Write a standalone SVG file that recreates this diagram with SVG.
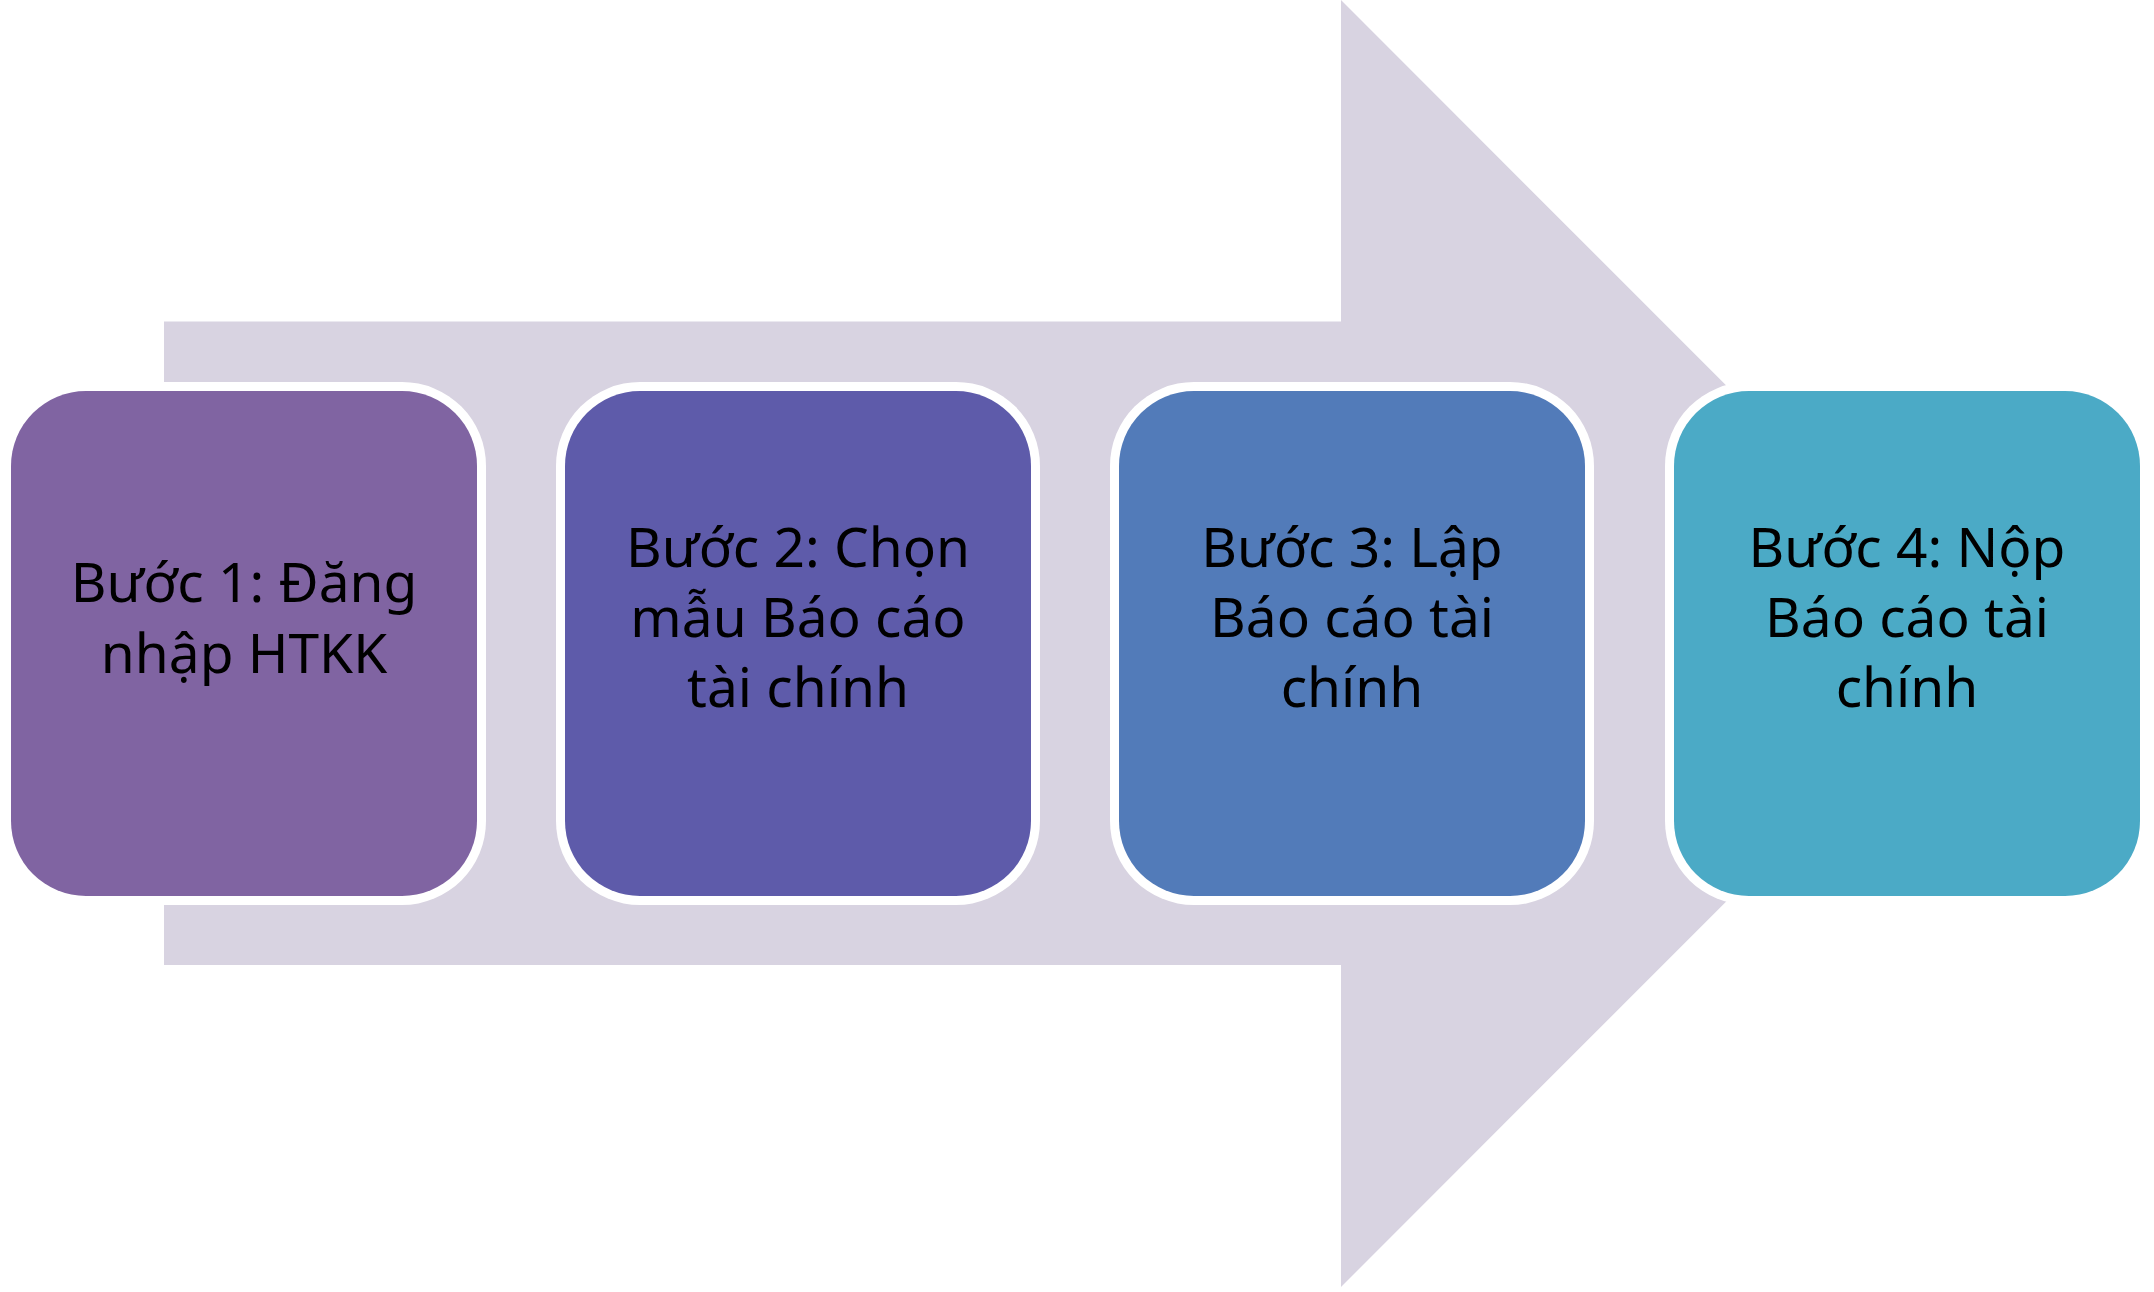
<svg xmlns="http://www.w3.org/2000/svg" width="2154" height="1292" viewBox="0 0 2154 1292">
<style>
.ring{fill:#FFFFFF}
.lbl{font-family:"Noto Sans","DejaVu Sans",sans-serif;font-size:55px;fill:#000000;text-anchor:middle}
</style>
<rect x="0" y="0" width="2154" height="1292" fill="#FFFFFF"/>
<g id="connectors">
<path id="arrow" d="M164,321.5 L1341,321.5 L1341,0 L1984,643.5 L1341,1287 L1341,965 L164,965 Z" fill="#D8D3E1"/>
</g>
<g id="step1">
<rect class="ring" x="2" y="382" width="484" height="523" rx="84"/>
<rect x="11" y="391" width="466" height="505" rx="75" fill="#8064A2"/>
<text class="lbl" x="244" y="602">Bước 1: Đăng</text>
<text class="lbl" x="244" y="673">nhập HTKK</text>
</g>
<g id="step2">
<rect class="ring" x="556" y="382" width="484" height="523" rx="84"/>
<rect x="565" y="391" width="466" height="505" rx="75" fill="#5E5BAA"/>
<text class="lbl" x="798" y="567">Bước 2: Chọn</text>
<text class="lbl" x="798" y="637">mẫu Báo cáo</text>
<text class="lbl" x="798" y="707">tài chính</text>
</g>
<g id="step3">
<rect class="ring" x="1110" y="382" width="484" height="523" rx="84"/>
<rect x="1119" y="391" width="466" height="505" rx="75" fill="#527BB9"/>
<text class="lbl" x="1352" y="567">Bước 3: Lập</text>
<text class="lbl" x="1352" y="637">Báo cáo tài</text>
<text class="lbl" x="1352" y="707">chính</text>
</g>
<g id="step4">
<rect class="ring" x="1665" y="382" width="484" height="523" rx="84"/>
<rect x="1674" y="391" width="466" height="505" rx="75" fill="#4BAAC6"/>
<text class="lbl" x="1907" y="567">Bước 4: Nộp</text>
<text class="lbl" x="1907" y="637">Báo cáo tài</text>
<text class="lbl" x="1907" y="707">chính</text>
</g>
</svg>
